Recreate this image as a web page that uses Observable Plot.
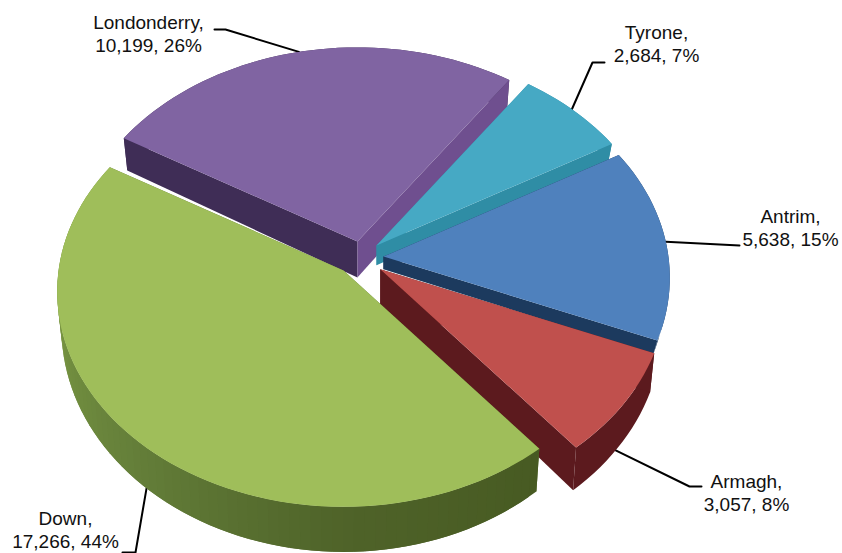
<!DOCTYPE html>
<html>
<head>
<meta charset="utf-8">
<style>html,body{margin:0;padding:0;background:#fff}svg{display:block}</style>
<script src="https://cdn.jsdelivr.net/npm/d3@7"></script>
<script src="https://cdn.jsdelivr.net/npm/@observablehq/plot@0.6"></script>
</head>
<body>
<script>
// --- data, clockwise from the Antrim slice
const names = ["Antrim", "Armagh", "Down", "Londonderry", "Tyrone"];
const values = [5638, 3057, 17266, 10199, 2684];
const percents = [15, 8, 44, 26, 7];

// --- styles
const topColors = ["#4f81bd", "#c0504d", "#9fbe5a", "#8064a2", "#46a9c4"];
const startWallColors = ["#1c3a5e", "#5c1a1e", "#5f7530", "#3f2d56", "#2f8da5"];
const endWallColors = ["#1c3a5e", "#5c1a1e", "#5f7530", "#6f4f8f", "#2f8da5"];

// --- layout of the pseudo-3D pie
const startAngle = 60;         // degrees clockwise from north
const explode = [17, 21, 28.8, 23.2, 18.9];
const explodeAngle = [86, 139, 232.9, 337, 32];
const wallScale = [0.35, 1, 1, 1, 0.55];
const cx = 366, cy = 257, R = 285, squash = 0.748, persp = 0.098, depth = 36;

// label placement, leader attachment (angle on the rim) and leader path
const labelX = [790, 746, 65, 148, 656];
const labelY = [227, 492, 529, 33, 43];
const leaderAngle = [86, 128, 220.5, 347, 47];
const leaderOnWall = [0, 1, 1, 0, 0];
const leaderElbow = [[739, 245], [689, 486], [135, 552], [225, 29], [592, 62]];
const leaderEnd = [[739, 245], [701, 486], [122, 552], [214, 29], [604, 62]];

const rad = d => d * Math.PI / 180;
const total = d3.sum(values);
let acc = startAngle;
const slices = names.map((name, i) => {
  const a0 = acc, a1 = acc + values[i] / total * 360;
  acc = a1;
  const ax = cx + explode[i] * Math.sin(rad(explodeAngle[i]));
  const ay = cy - explode[i] * squash * Math.cos(rad(explodeAngle[i]));
  return {i, name, a0, a1, ax, ay};
});
function rimPoint(s, a, lower = false) {
  const X = Math.sin(rad(a)), Y = -Math.cos(rad(a));
  const w = 1 - persp * Y;
  const dx = R * X / w, dy = R * squash * Y / w;
  if (!lower) return [s.ax + dx, s.ay + dy];
  return [s.ax + dx * 0.985, s.ay + dy + wallScale[s.i] * depth / Math.pow(w, 2.2)];
}
const apexLower = s => [s.ax, s.ay + wallScale[s.i] * depth];

const greenShade = d3.scaleLinear()
  .domain([140, 180, 225, 270, 301])
  .range(["#475a22", "#4f6329", "#65803a", "#7d9a44", "#8aa84d"]);

const polys = [];
let pid = 0;
const addPoly = (pts, fill) => {
  const id = pid++;
  pts.forEach(([x, y]) => polys.push({id, x, y, fill}));
};
// painter's order: back slices first; hidden walls first, visible walls, then top face
[3, 4, 0, 1, 2].forEach(k => {
  const s = slices[k];
  const steps = Math.ceil((s.a1 - s.a0) / 2);
  const ang = d3.range(steps + 1).map(j => s.a0 + (s.a1 - s.a0) * j / steps);
  const radial = () => {
    addPoly([[s.ax, s.ay], rimPoint(s, s.a0), rimPoint(s, s.a0, true), apexLower(s)], startWallColors[k]);
    addPoly([[s.ax, s.ay], rimPoint(s, s.a1), rimPoint(s, s.a1, true), apexLower(s)], endWallColors[k]);
  };
  if (k === 2) {
    radial();
    // shaded wall: overlapping segments, so no seams show between them
    for (let j = 0; j < steps; j++) {
      const b0 = ang[j], b1 = ang[Math.min(j + 2, steps)];
      addPoly([rimPoint(s, b0), rimPoint(s, b1), rimPoint(s, b1, true), rimPoint(s, b0, true)],
        greenShade((ang[j] + ang[j + 1]) / 2));
    }
  } else {
    addPoly([...ang.map(a => rimPoint(s, a)), ...ang.slice().reverse().map(a => rimPoint(s, a, true))],
      startWallColors[k]);
    radial();
  }
  addPoly([[s.ax, s.ay], ...ang.map(a => rimPoint(s, a))], topColors[k]);
});

const leaders = [];
slices.forEach(s => {
  const p = rimPoint(s, leaderAngle[s.i], !!leaderOnWall[s.i]);
  [p, leaderElbow[s.i], leaderEnd[s.i]].forEach(([x, y]) => leaders.push({id: s.i, x, y}));
});
const labels = slices.map(s => ({
  x: labelX[s.i], y: labelY[s.i],
  text: `${s.name},\n${d3.format(",")(values[s.i])}, ${percents[s.i]}%`
}));

const chart = Plot.plot({
  width: 842, height: 553, margin: 0,
  x: {domain: [0, 842], range: [0, 842], axis: null},
  y: {domain: [0, 553], range: [0, 553], axis: null},
  color: {type: "identity"},
  marks: [
    Plot.line(leaders, {x: "x", y: "y", z: "id", stroke: "#000", strokeWidth: 2, curve: "linear"}),
    Plot.line(polys, {x: "x", y: "y", z: "id", fill: "fill", curve: "linear-closed"}),
    Plot.text(labels, {x: "x", y: "y", text: "text", fontSize: 19, fontFamily: "'Liberation Sans', sans-serif", lineHeight: 1.21, lineAnchor: "middle", fill: "#111"})
  ]
});
document.body.append(chart);
</script>
</body>
</html>
